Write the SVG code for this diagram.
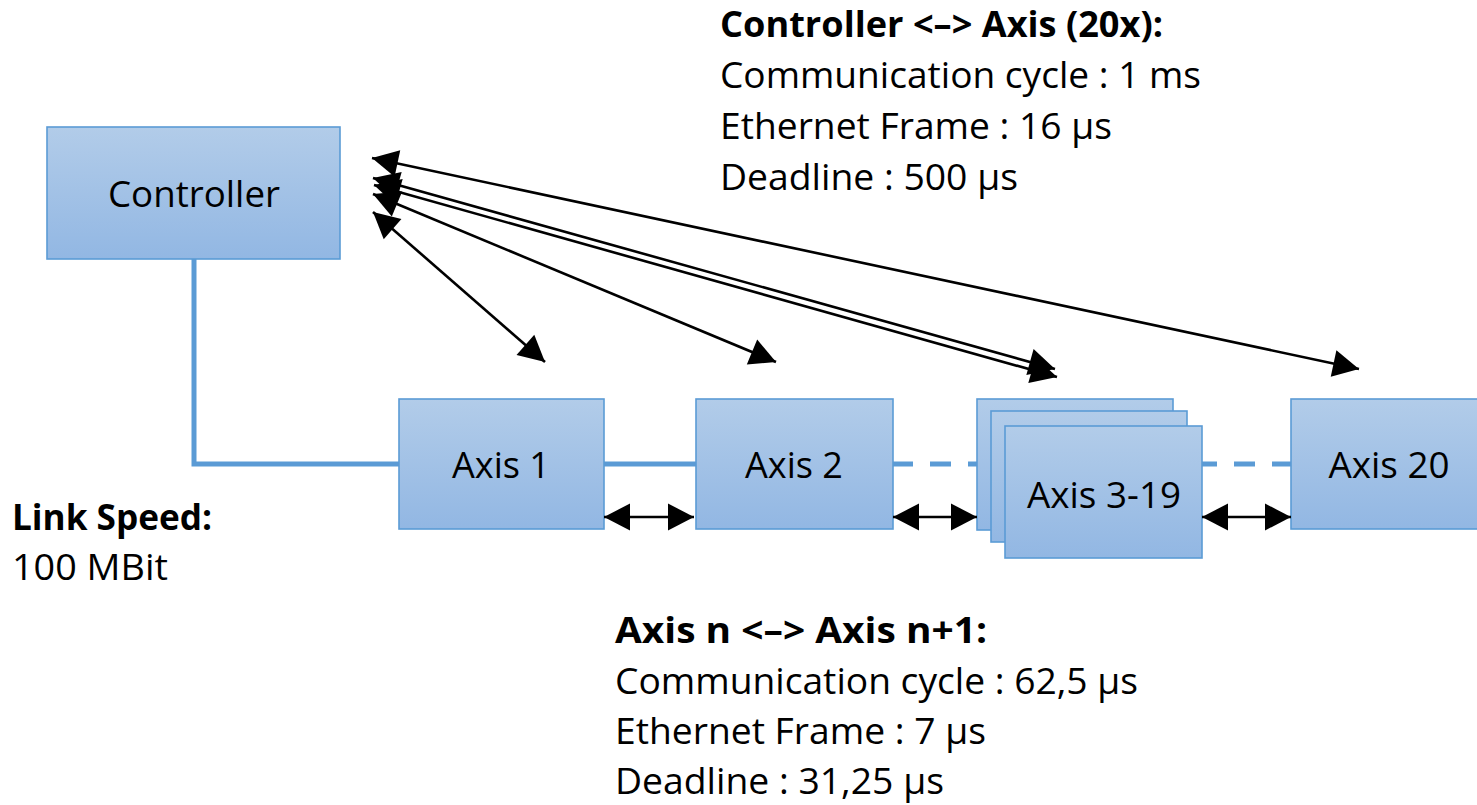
<svg xmlns="http://www.w3.org/2000/svg" width="1477" height="805" viewBox="0 0 1477 805">
  <defs>
    <linearGradient id="boxGrad" x1="0" y1="0" x2="0" y2="1">
      <stop offset="0" stop-color="#b2cce9"/>
      <stop offset="1" stop-color="#92b7e3"/>
    </linearGradient>
    <marker id="ah" markerUnits="userSpaceOnUse" markerWidth="30" markerHeight="30" viewBox="-27 -15 30 30" refX="0" refY="0" orient="auto-start-reverse">
      <path d="M0,0 L-26,-13.5 L-26,13.5 Z" fill="#000"/>
    </marker>
  </defs>
  <style>
    .box { fill: url(#boxGrad); stroke: #5b9bd5; stroke-width: 1.6; }
    .bus { fill: none; stroke: #5b9bd5; stroke-width: 5; }
    .dash { stroke-dasharray: 21 17; }
    .arr { fill: none; stroke: #000; stroke-width: 2.6; marker-start: url(#ah); marker-end: url(#ah); }
    text { font-family: "Open Sans", Lato, "Liberation Sans", sans-serif; font-size: 36px; fill: #000; }
    .b { font-weight: bold; }
    .c { text-anchor: middle; }
  </style>
  <rect width="1477" height="805" fill="#fff"/>

  <g id="bus">
    <path class="bus" d="M194,259 V464 H399"/>
    <path class="bus" d="M604,464 H696"/>
    <path class="bus dash" d="M892,464 H1291"/>
  </g>

  <g id="controller">
    <rect class="box" x="47" y="127" width="293" height="132"/>
    <text class="c" x="194" y="207" textLength="172" lengthAdjust="spacingAndGlyphs">Controller</text>
  </g>
  <g id="axis1">
    <rect class="box" x="399" y="399" width="205" height="130"/>
    <text class="c" x="501" y="478" textLength="98" lengthAdjust="spacingAndGlyphs">Axis 1</text>
  </g>
  <g id="axis2">
    <rect class="box" x="696" y="399" width="197" height="130"/>
    <text class="c" x="794" y="478" textLength="98" lengthAdjust="spacingAndGlyphs">Axis 2</text>
  </g>
  <g id="axis3-19">
    <rect class="box" x="977" y="399" width="196" height="131"/>
    <rect class="box" x="991" y="411" width="196" height="131"/>
    <rect class="box" x="1005" y="426" width="197" height="132"/>
    <text class="c" x="1104" y="508" textLength="154" lengthAdjust="spacingAndGlyphs">Axis 3-19</text>
  </g>
  <g id="axis20">
    <rect class="box" x="1291" y="399" width="200" height="130"/>
    <text class="c" x="1389" y="478" textLength="121" lengthAdjust="spacingAndGlyphs">Axis 20</text>
  </g>

  <g id="connectors">
    <line class="arr" x1="373" y1="212" x2="545" y2="362"/>
    <line class="arr" x1="373" y1="194" x2="776" y2="362"/>
    <line class="arr" x1="373" y1="178" x2="1055" y2="369"/>
    <line class="arr" x1="374" y1="185" x2="1057" y2="377"/>
    <line class="arr" x1="372" y1="158" x2="1359" y2="369"/>
    <line class="arr" x1="604" y1="517" x2="694" y2="517"/>
    <line class="arr" x1="893" y1="517" x2="977" y2="517"/>
    <line class="arr" x1="1202" y1="517" x2="1291" y2="517"/>
  </g>

  <g id="label-controller-axis">
    <text class="b" x="720" y="37" textLength="443" lengthAdjust="spacingAndGlyphs">Controller &lt;–&gt; Axis (20x):</text>
    <text x="720" y="88" textLength="481" lengthAdjust="spacingAndGlyphs">Communication cycle : 1 ms</text>
    <text x="720" y="139" textLength="392" lengthAdjust="spacingAndGlyphs">Ethernet Frame : 16 µs</text>
    <text x="720" y="190" textLength="298" lengthAdjust="spacingAndGlyphs">Deadline : 500 µs</text>
  </g>
  <g id="label-axis-axis">
    <text class="b" x="615" y="643" textLength="372" lengthAdjust="spacingAndGlyphs">Axis n &lt;–&gt; Axis n+1:</text>
    <text x="615" y="694" textLength="523" lengthAdjust="spacingAndGlyphs">Communication cycle : 62,5 µs</text>
    <text x="615" y="744" textLength="371" lengthAdjust="spacingAndGlyphs">Ethernet Frame : 7 µs</text>
    <text x="615" y="794" textLength="329" lengthAdjust="spacingAndGlyphs">Deadline : 31,25 µs</text>
  </g>
  <g id="label-link">
    <text class="b" x="12" y="530" textLength="200" lengthAdjust="spacingAndGlyphs">Link Speed:</text>
    <text x="12" y="580" textLength="156" lengthAdjust="spacingAndGlyphs">100 MBit</text>
  </g>
</svg>
